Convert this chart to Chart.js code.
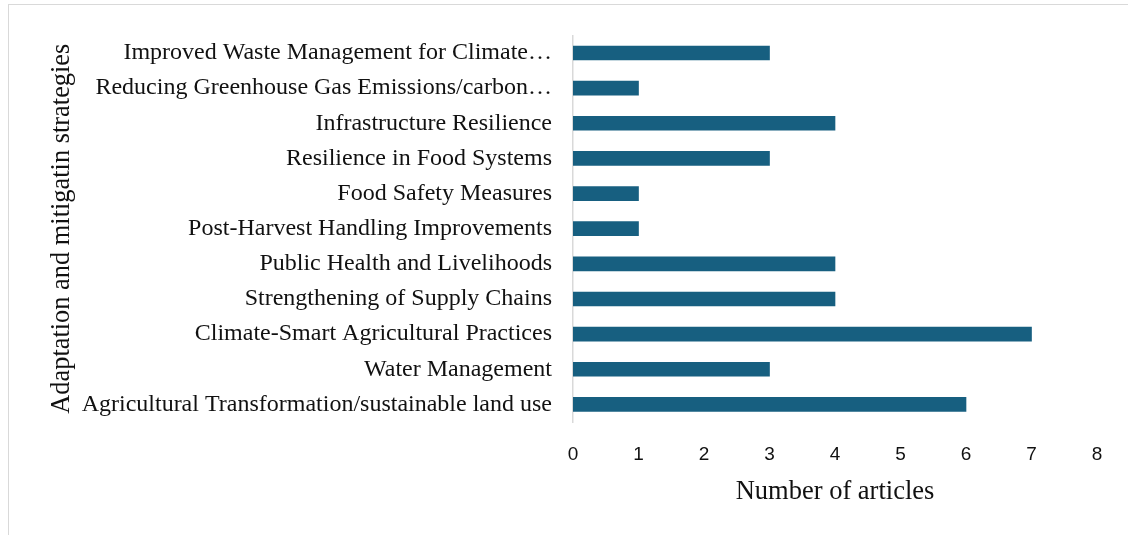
<!DOCTYPE html>
<html>
<head>
<meta charset="utf-8">
<script src="https://cdn.jsdelivr.net/npm/chart.js@4"></script>
<style>
  html, body { margin: 0; padding: 0; background: #fff; }
  #wrap { position: relative; width: 1128px; height: 535px; overflow: hidden; }
  #frame { position: absolute; left: 8px; top: 4px; width: 1300px; height: 700px; border: 1.5px solid #d9d9d9; box-sizing: border-box; }
  #chart { position: absolute; left: 0; top: 0; }
</style>
</head>
<body>
<div id="wrap">
  <div id="frame"></div>
  <canvas id="chart" width="1128" height="535"></canvas>
</div>
<script>
// categories top to bottom, as they appear
const CATEGORIES = [
  'Improved Waste Management for Climate…',
  'Reducing Greenhouse Gas Emissions/carbon…',
  'Infrastructure Resilience',
  'Resilience in Food Systems',
  'Food Safety Measures',
  'Post-Harvest Handling Improvements',
  'Public Health and Livelihoods',
  'Strengthening of Supply Chains',
  'Climate-Smart Agricultural Practices',
  'Water Management',
  'Agricultural Transformation/sustainable land use'
];
const ARTICLES = [3, 1, 4, 3, 1, 1, 4, 4, 7, 3, 6];
const X_TICKS = [0, 1, 2, 3, 4, 5, 6, 7, 8];

const SERIF = '"Liberation Serif", "Times New Roman", serif';
const SANS = '"Liberation Sans", Arial, sans-serif';

const ctx = document.getElementById('chart').getContext('2d');
new Chart(ctx, {
  type: 'bar',
  data: {
    labels: CATEGORIES,
    datasets: [{
      label: 'Number of articles',
      data: ARTICLES,
      backgroundColor: '#175f80',
      borderWidth: 0,
      barThickness: 14
    }]
  },
  options: {
    indexAxis: 'y',
    responsive: false,
    animation: false,
    layout: { padding: { left: 0, top: 33, right: 31, bottom: 0 } },
    plugins: {
      legend: { display: false },
      tooltip: { enabled: false }
    },
    scales: {
      x: {
        min: 0, max: 8,
        afterBuildTicks: s => { s.ticks = X_TICKS.map(v => ({ value: v })); },
        afterFit: s => { s.height = 113; },
        grid: { display: false, drawTicks: false },
        border: { display: false },
        ticks: { color: '#111', padding: 21, font: { family: SANS, size: 19 } },
        title: {
          display: true,
          text: 'Number of articles',
          color: '#111',
          font: { family: SERIF, size: 26.5 },
          padding: { top: 0, bottom: 27 }
        }
      },
      y: {
        afterFit: s => { s.width = 573; },
        grid: { display: false, drawTicks: false },
        border: { display: true, color: '#d9d9d9', width: 1.5 },
        ticks: { color: '#111', padding: 21, font: { family: SERIF, size: 24 } },
        title: {
          display: true,
          text: 'Adaptation and mitigatin strategies',
          color: '#111',
          font: { family: SERIF, size: 26.4 },
          padding: { top: 46, bottom: 0 }
        }
      }
    }
  }
});
</script>
</body>
</html>
